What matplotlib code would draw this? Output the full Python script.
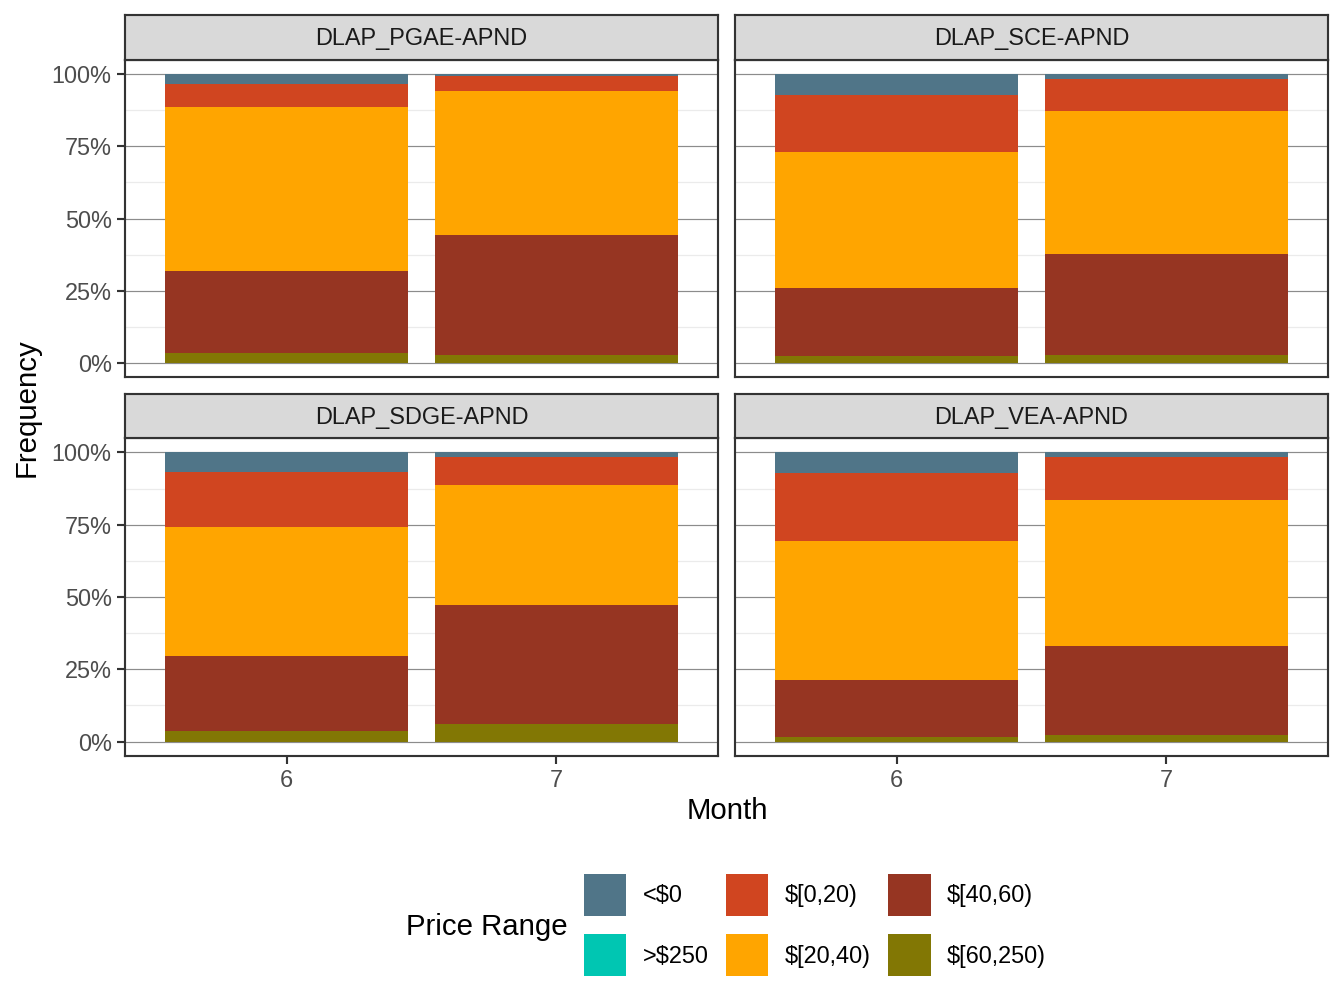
import matplotlib.pyplot as plt
import numpy as np
from matplotlib.patches import Patch

plt.rcParams['font.family'] = ['Liberation Sans', 'DejaVu Sans']

regions = ["DLAP_PGAE-APND", "DLAP_SCE-APND", "DLAP_SDGE-APND", "DLAP_VEA-APND"]
months = ["6", "7"]
price_ranges = ["<$0", ">$250", "$[0,20)", "$[20,40)", "$[40,60)", "$[60,250)"]
range_colors = ["#507588", "#00C6B2", "#D04520", "#FFA500", "#963522", "#827704"]

# share of hours (%) per region, [month 6, month 7]
share_lt0 = [[3.2, 0.5], [7.1, 1.6], [6.6, 1.5], [7.0, 1.7]]
share_gt250 = [[0.0, 0.0], [0.0, 0.0], [0.0, 0.0], [0.0, 0.0]]
share_0_20 = [[8.1, 5.3], [19.7, 11.1], [19.1, 9.7], [23.5, 14.7]]
share_20_40 = [[56.9, 50.0], [47.4, 49.7], [44.6, 41.4], [48.1, 50.4]]
share_40_60 = [[28.5, 41.6], [23.5, 34.95], [26.2, 41.2], [19.7, 31.1]]
share_60_250 = [[3.3, 2.65], [2.3, 2.65], [3.5, 6.2], [1.7, 2.1]]

shares = [share_lt0, share_gt250, share_0_20, share_20_40, share_40_60, share_60_250]

W, H = 1344, 1008
fig = plt.figure(figsize=(7, 5.25), dpi=192)
fig.patch.set_facecolor('white')

def fx(px):
    return px / W

def fy(px):
    return 1 - px / H

# panel boxes in pixels: (left, right) and (strip_top, strip_bottom, panel_bottom)
cols = [(125, 718), (735, 1328)]
rows = [(15, 60, 377), (394, 438, 756)]

border = '#333333'
x = np.arange(len(months)) + 1

for k, region in enumerate(regions):
    r, c = divmod(k, 2)
    left, right = cols[c]
    s_top, s_bot, p_bot = rows[r]

    ax = fig.add_axes([fx(left), fy(p_bot), fx(right - left), (p_bot - s_bot) / H])
    ax.set_xlim(0.4, 2.6)
    ax.set_ylim(-0.05, 1.05)
    ax.set_axisbelow(True)

    for yv in [0.125, 0.375, 0.625, 0.875]:
        ax.axhline(yv, color='#EBEBEB', lw=0.45, zorder=0)
    for yv in [0, 0.25, 0.5, 0.75, 1.0]:
        ax.axhline(yv, color='#8C8C8C', lw=0.45, zorder=0)

    bottom = np.zeros(len(months))
    for name, col, vals in reversed(list(zip(price_ranges, range_colors, shares))):
        v = np.array(vals[k]) / 100
        ax.bar(x, v, width=0.9, bottom=bottom, color=col, edgecolor='none', zorder=2)
        bottom += v

    for sp in ax.spines.values():
        sp.set_color(border)
        sp.set_linewidth(0.8)
        sp.set_zorder(5)

    ax.set_yticks([0, 0.25, 0.5, 0.75, 1.0])
    ax.set_xticks(x)
    ax.tick_params(colors=border, width=0.8, length=3, labelsize=8.8,
                   labelcolor='#4D4D4D', pad=2)
    if c == 0:
        ax.set_yticklabels(["0%", "25%", "50%", "75%", "100%"])
    else:
        ax.tick_params(axis='y', left=False, labelleft=False)
    if r == 1:
        ax.set_xticklabels(months)
    else:
        ax.tick_params(axis='x', bottom=False, labelbottom=False)

    sax = fig.add_axes([fx(left), fy(s_bot), fx(right - left), (s_bot - s_top) / H])
    sax.set_facecolor('#D9D9D9')
    sax.set_xticks([])
    sax.set_yticks([])
    for sp in sax.spines.values():
        sp.set_color(border)
        sp.set_linewidth(0.8)
    sax.text(0.5, 0.47, region, ha='center', va='center', fontsize=8.8,
             color='#1A1A1A', transform=sax.transAxes)

fig.text(fx(27), fy(408), "Frequency", rotation=90, ha='center', va='center',
         fontsize=11, color='black')
fig.text(fx(727), fy(811), "Month", ha='center', va='center', fontsize=11, color='black')

handles = [Patch(facecolor=col, edgecolor='none') for col in range_colors]
fig.legend(handles, price_ranges, ncol=3, frameon=False, fontsize=8.8,
           loc='center', bbox_to_anchor=(fx(815), fy(925)),
           handlelength=1.8, handleheight=2.38, handletextpad=0.7,
           columnspacing=0.75, labelspacing=0.8, borderpad=0)
fig.text(fx(487), fy(927), "Price Range", ha='center', va='center', fontsize=11)

plt.savefig("out.png", dpi=192, facecolor='white')
plt.close()
